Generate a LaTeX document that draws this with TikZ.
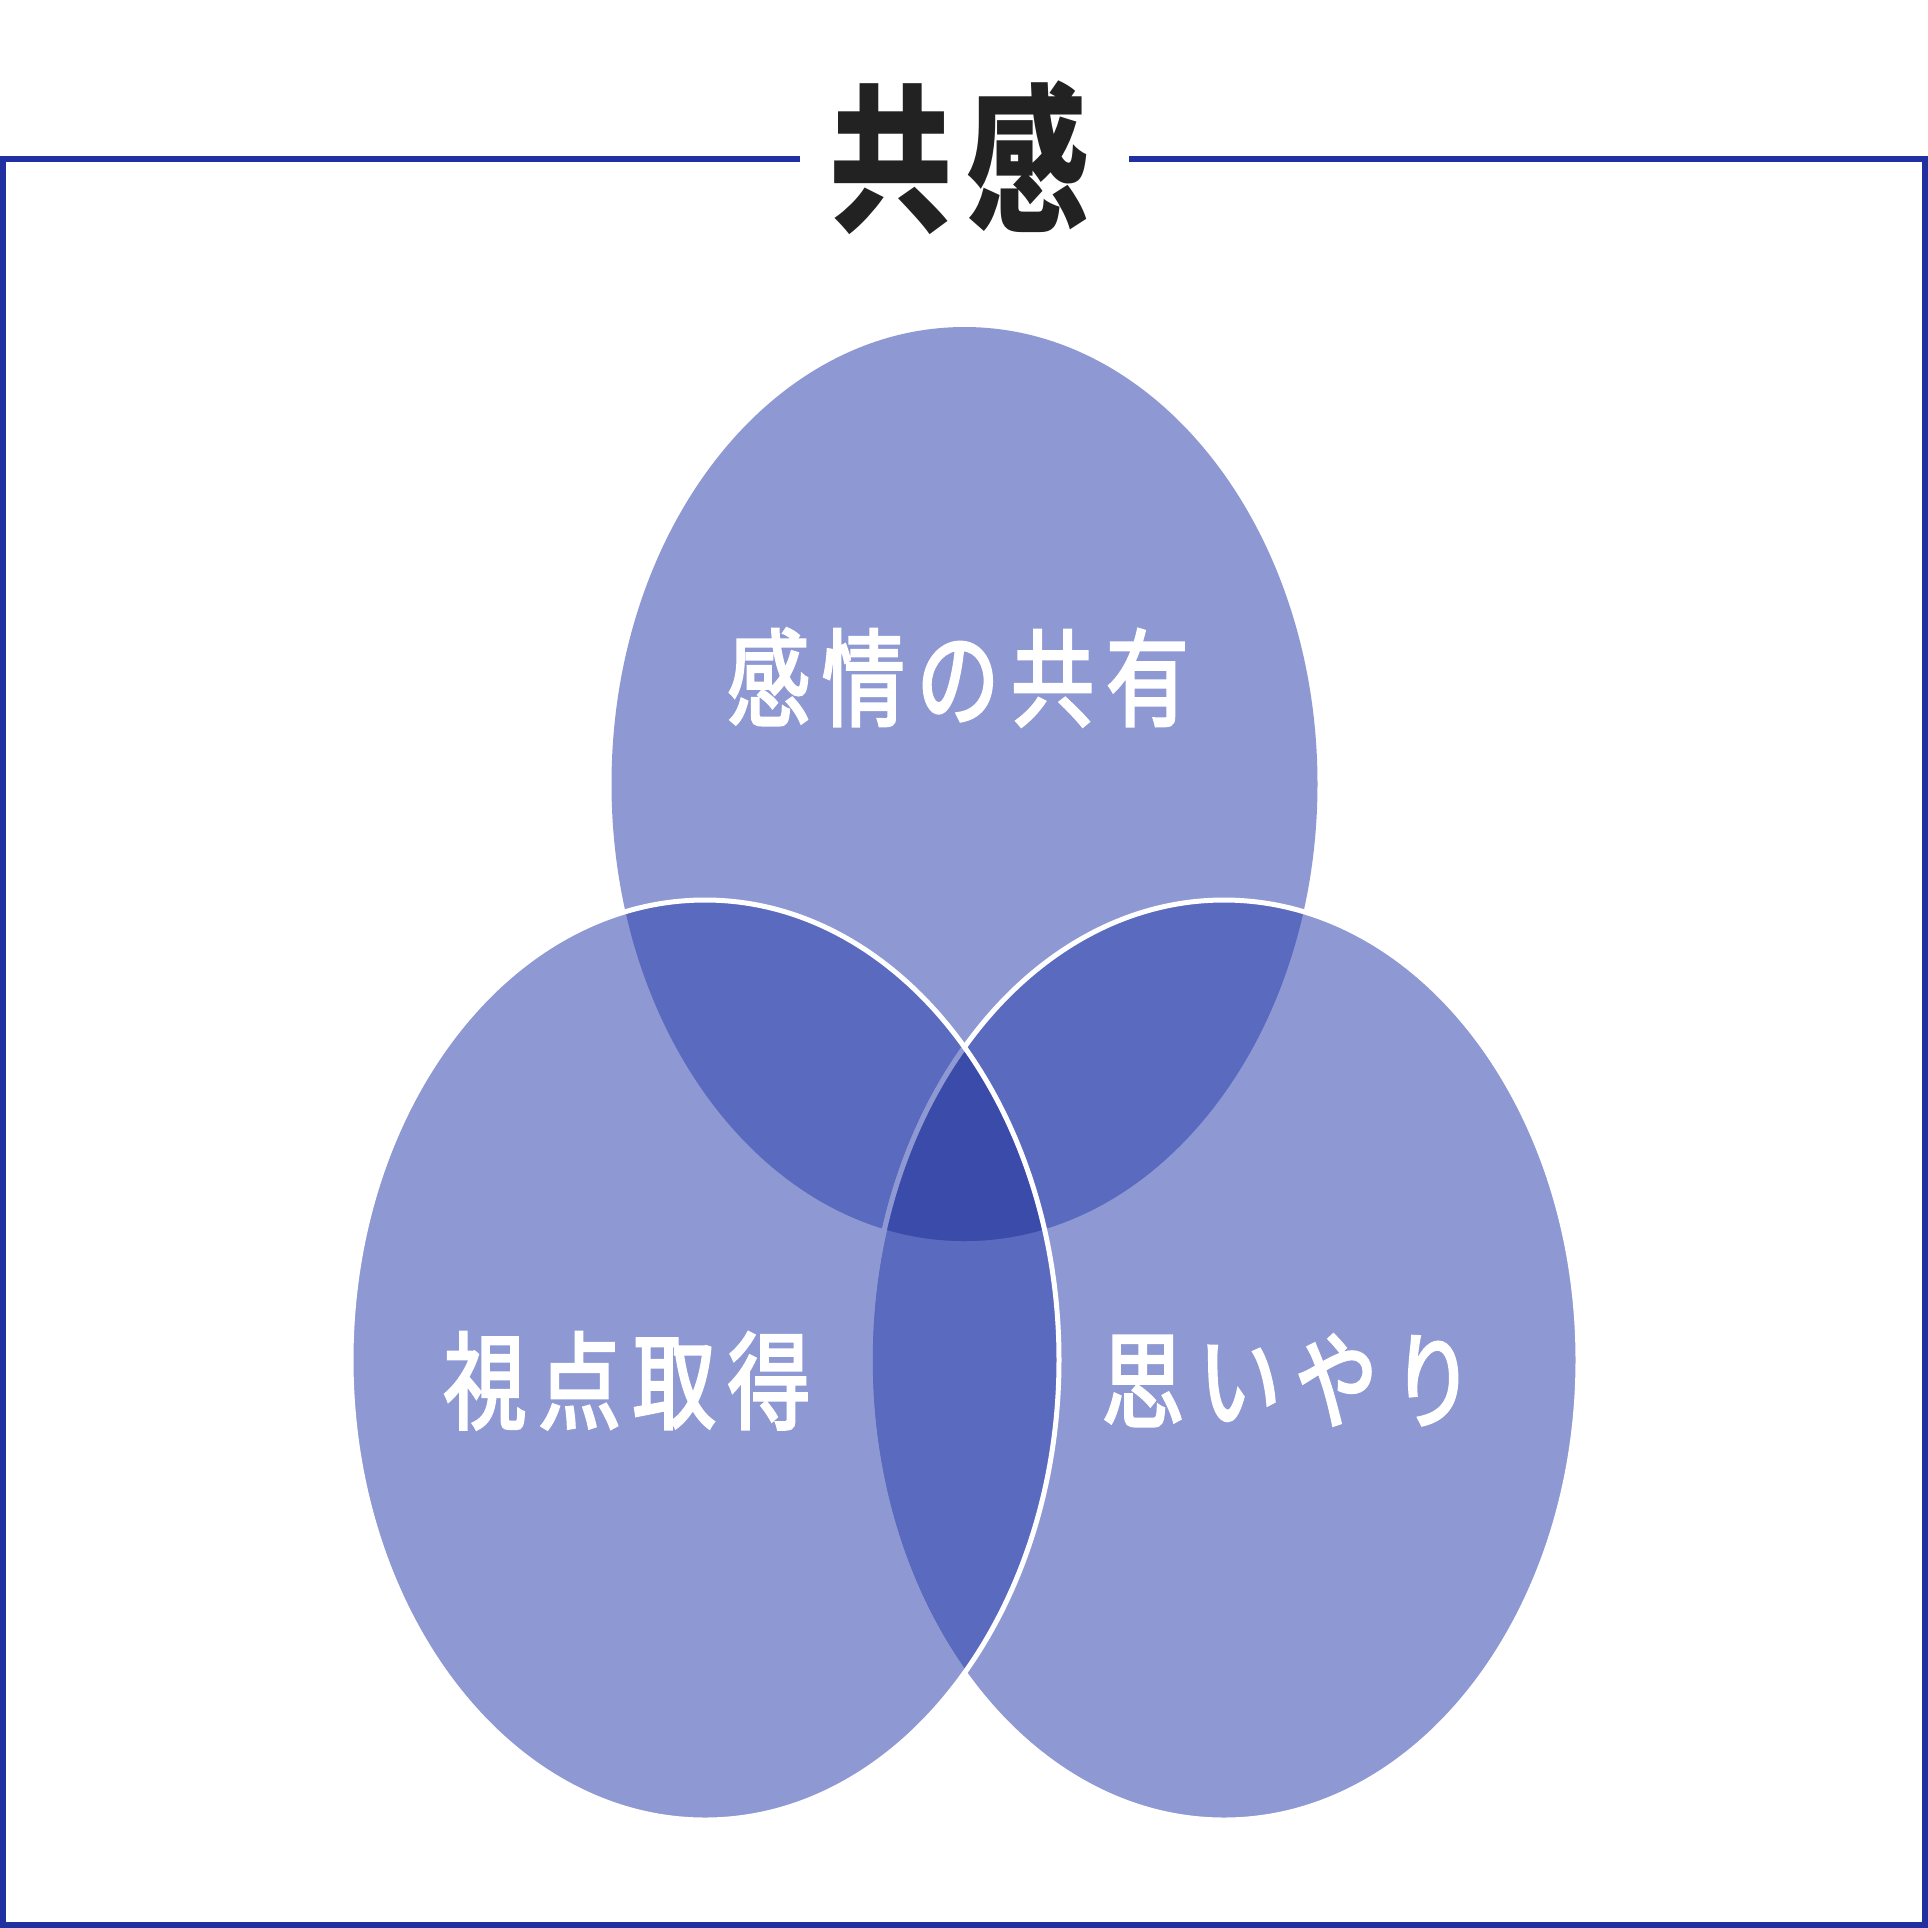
\documentclass[tikz,border=0pt]{standalone}
\usepackage{fontspec}
\newfontfamily\lblfont[FakeStretch=0.78,FakeBold=2.5]{Noto Sans CJK JP}
\newfontfamily\ttlfont[FakeStretch=0.77]{Noto Sans CJK JP}
\definecolor{fillc}{RGB}{46,66,173}
\definecolor{singlec}{RGB}{142,153,211}
\definecolor{triplec}{RGB}{58,75,170}
\definecolor{framec}{RGB}{32,48,160}
\definecolor{titlec}{RGB}{34,34,34}
\def\topE{(964.5,784) ellipse [x radius=353, y radius=457]}
\def\blE{(705,1360) ellipse [x radius=354, y radius=460]}
\def\brE{(1224,1360) ellipse [x radius=354, y radius=460]}
\begin{document}
\begin{tikzpicture}[x=1pt,y=-1pt,
  lbl/.style={font=\lblfont\fontsize{106}{110}\selectfont, text=white, inner sep=0pt, anchor=base},
  ttl/.style={font=\ttlfont\bfseries\fontsize{160}{165}\selectfont, text=titlec, inner sep=0pt, anchor=base},
  venn/.style={fill=fillc, fill opacity=0.54},
  rim/.style={draw=white, line width=5pt},
  framel/.style={draw=framec, line width=6pt, line join=miter}]
\useasboundingbox (0,0) rectangle (1928,1928);
% frame
\coordinate (fl) at (800,159);
\coordinate (ftl) at (3,159);
\coordinate (fbl) at (3,1924.5);
\coordinate (fbr) at (1925,1924.5);
\coordinate (ftr) at (1925,159);
\coordinate (fr) at (1129,159);
\draw[framel] (fl) -- (ftl) -- (fbl) -- (fbr) -- (ftr) -- (fr);
% ellipses
\fill[venn] \topE;
\fill[venn] \brE;
\draw[rim] \brE;
\fill[venn] \blE;
\begin{scope}
  \clip \topE;
  \clip \brE;
  \fill[triplec] \blE;
\end{scope}
\begin{scope}
  \clip \blE;
  \draw[draw=singlec, line width=5pt] \brE;
\end{scope}
\draw[rim] \blE;
% texts
\node[ttl] (title) at (960,219) {共\kern14pt 感};
\node[lbl] (emo) at (958,718) {感\kern12pt 情\kern12pt の\kern12pt 共\kern12pt 有};
\node[lbl] (persp) at (627,1421) {視\kern12pt 点\kern12pt 取\kern12pt 得};
\node[lbl] (comp) at (1288,1420) {思\kern14pt い\kern14pt や\kern14pt り};
\end{tikzpicture}
\end{document}
